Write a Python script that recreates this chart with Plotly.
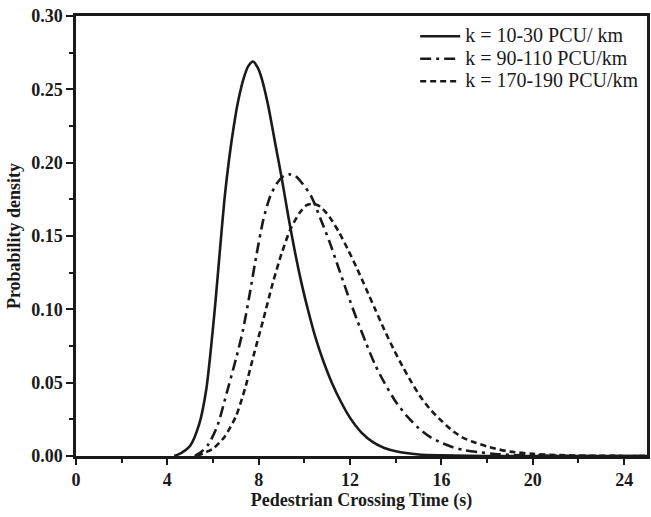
import plotly.graph_objects as go

# --- data ---
x_k1 = [4.3, 4.6, 5.0, 5.4, 5.7, 5.9, 6.1, 6.3, 6.5, 6.7, 6.9, 7.1, 7.35, 7.55, 7.75, 7.95,
        8.1, 8.4, 8.7, 9.0, 9.3, 9.6, 9.9, 10.2, 10.5, 10.8, 11.2, 11.6, 12.0, 12.5, 13.0,
        13.5, 14.0, 15.0, 16.0, 18.0, 25.0]
y_k1 = [0.0, 0.002, 0.007, 0.022, 0.045, 0.072, 0.104, 0.140, 0.175, 0.202, 0.224, 0.242,
        0.258, 0.266, 0.269, 0.265, 0.259, 0.240, 0.215, 0.190, 0.163, 0.138, 0.116, 0.097,
        0.080, 0.066, 0.050, 0.037, 0.026, 0.016, 0.0095, 0.0055, 0.0032, 0.001, 0.0004, 0.0, 0.0]

x_k2 = [5.2, 5.5, 5.8, 6.2, 6.6, 7.0, 7.3, 7.6, 7.9, 8.2, 8.5, 8.8, 9.1, 9.35, 9.6, 9.9,
        10.3, 10.7, 11.1, 11.5, 11.9, 12.3, 12.7, 13.1, 13.5, 14.0, 14.5, 15.0, 15.5, 16.0,
        16.5, 17.0, 17.7, 18.5, 19.5, 21.0, 25.0]
y_k2 = [0.0, 0.003, 0.008, 0.021, 0.043, 0.066, 0.085, 0.110, 0.137, 0.161, 0.177, 0.186,
        0.191, 0.192, 0.191, 0.186, 0.177, 0.162, 0.146, 0.128, 0.110, 0.093, 0.077, 0.062,
        0.050, 0.037, 0.027, 0.019, 0.013, 0.009, 0.006, 0.004, 0.0025, 0.0012, 0.0005,
        0.0001, 0.0]

x_k3 = [5.3, 5.6, 6.0, 6.5, 7.0, 7.4, 7.8, 8.2, 8.6, 9.0, 9.4, 9.8, 10.1, 10.4, 10.7, 11.1,
        11.5, 11.9, 12.3, 12.7, 13.1, 13.5, 13.9, 14.3, 14.7, 15.1, 15.5, 16.0, 16.5, 17.0,
        17.5, 18.0, 18.5, 19.0, 20.0, 21.0, 22.5, 25.0]
y_k3 = [0.0, 0.002, 0.005, 0.013, 0.027, 0.046, 0.070, 0.093, 0.117, 0.138, 0.155, 0.166,
        0.171, 0.172, 0.170, 0.163, 0.153, 0.141, 0.128, 0.114, 0.100, 0.086, 0.073, 0.061,
        0.050, 0.040, 0.032, 0.024, 0.017, 0.012, 0.009, 0.0065, 0.0045, 0.003, 0.0015,
        0.0007, 0.0002, 0.0]

names = ["k = 10-30 PCU/ km", "k = 90-110 PCU/km", "k = 170-190 PCU/km"]
x_ticks = [0, 4, 8, 12, 16, 20, 24]
y_ticks = [0.00, 0.05, 0.10, 0.15, 0.20, 0.25, 0.30]

font_family = "Liberation Serif, Times New Roman, serif"

fig = go.Figure()
series = [(x_k1, y_k1, "solid"), (x_k2, y_k2, "11px,5px,3px,5px"), (x_k3, y_k3, "6px,4px")]
for (xs, ys, dash), nm in zip(series, names):
    fig.add_trace(go.Scatter(
        x=xs, y=ys, mode="lines",
        name='<span style="font-size:20px">' + nm + "</span>",
        line=dict(color="#1a1a1a", width=2.6, dash=dash, shape="spline", smoothing=0.7),
    ))

fig.update_layout(
    width=651, height=517,
    margin=dict(l=76, r=1, t=16, b=61),
    paper_bgcolor="white", plot_bgcolor="white",
    font=dict(family=font_family, color="#1a1a1a"),
    showlegend=True,
    legend=dict(
        x=0.594, y=0.991, xanchor="left", yanchor="top",
        bgcolor="rgba(0,0,0,0)", borderwidth=0,
        font=dict(family=font_family, size=15, color="#1a1a1a"),
        tracegroupgap=0, itemwidth=40,
    ),
    xaxis=dict(
        range=[0, 25], tickvals=x_ticks, ticktext=[str(v) for v in x_ticks],
        showgrid=False, zeroline=False,
        showline=True, linecolor="#1a1a1a", linewidth=2.5, mirror=True,
        ticks="outside", ticklen=6, tickwidth=2, tickcolor="#1a1a1a",
        minor=dict(dtick=2, tick0=0, ticklen=4, tickwidth=2, tickcolor="#1a1a1a", ticks="outside"),
        tickfont=dict(family=font_family, size=18, color="#1a1a1a", weight="bold"),
        title=dict(text="<b>Pedestrian Crossing Time (s)</b>",
                   font=dict(family=font_family, size=18, color="#1a1a1a"), standoff=5),
    ),
    yaxis=dict(
        range=[0, 0.30], tickvals=y_ticks, ticktext=["%.2f" % v for v in y_ticks],
        showgrid=False, zeroline=False,
        showline=True, linecolor="#1a1a1a", linewidth=2.5, mirror=True,
        ticks="outside", ticklen=7, tickwidth=2, tickcolor="#1a1a1a",
        minor=dict(dtick=0.025, tick0=0, ticklen=4, tickwidth=2, tickcolor="#1a1a1a", ticks="outside"),
        tickfont=dict(family=font_family, size=18, color="#1a1a1a", weight="bold"),
        title=dict(text="<b>Probability density</b>",
                   font=dict(family=font_family, size=18, color="#1a1a1a"), standoff=6),
    ),
)

fig.write_html("out.html")
